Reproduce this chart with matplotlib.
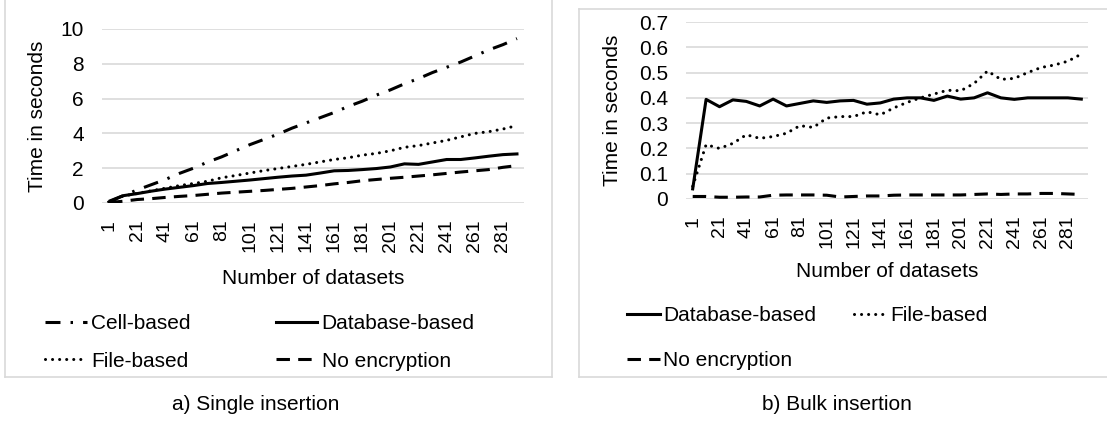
import matplotlib
matplotlib.use("Agg")
import matplotlib.pyplot as plt
from matplotlib.lines import Line2D

plt.rcParams['font.family'] = ['Liberation Sans', 'DejaVu Sans']

# categories: number of datasets (one point every 10)
datasets = [1, 11, 21, 31, 41, 51, 61, 71, 81, 91, 101, 111, 121, 131, 141,
            151, 161, 171, 181, 191, 201, 211, 221, 231, 241, 251, 261, 271, 281, 291]

# a) single insertion (seconds)
single_cell = [0.1, 0.42, 0.75, 1.05, 1.35, 1.7, 2.0, 2.35, 2.65, 3.0, 3.35, 3.65, 3.95, 4.3, 4.6,
               4.9, 5.2, 5.55, 5.85, 6.2, 6.5, 6.85, 7.15, 7.5, 7.8, 8.1, 8.45, 8.8, 9.1, 9.45]
single_db = [0.06, 0.42, 0.54, 0.68, 0.8, 0.9, 1.0, 1.12, 1.18, 1.25, 1.32, 1.4, 1.48, 1.55, 1.6,
             1.72, 1.85, 1.87, 1.92, 1.98, 2.07, 2.25, 2.22, 2.36, 2.5, 2.5, 2.59, 2.69, 2.78, 2.82]
single_file = [0.06, 0.4, 0.55, 0.7, 0.85, 1.0, 1.12, 1.25, 1.45, 1.58, 1.72, 1.86, 1.98, 2.1, 2.22,
               2.36, 2.5, 2.6, 2.75, 2.85, 3.0, 3.2, 3.3, 3.45, 3.6, 3.8, 4.0, 4.1, 4.25, 4.45]
single_none = [0.03, 0.1, 0.2, 0.25, 0.32, 0.38, 0.43, 0.5, 0.57, 0.62, 0.67, 0.72, 0.78, 0.84, 0.92,
               1.0, 1.1, 1.18, 1.28, 1.35, 1.42, 1.48, 1.55, 1.62, 1.7, 1.78, 1.85, 1.92, 2.05, 2.15]

# b) bulk insertion (seconds)
bulk_db = [0.04, 0.394, 0.365, 0.392, 0.386, 0.368, 0.395, 0.368, 0.378, 0.388, 0.382, 0.388, 0.39, 0.375, 0.38,
           0.395, 0.4, 0.4, 0.39, 0.407, 0.395, 0.4, 0.42, 0.4, 0.394, 0.4, 0.4, 0.4, 0.4, 0.395]
bulk_file = [0.05, 0.215, 0.2, 0.22, 0.254, 0.24, 0.247, 0.26, 0.29, 0.283, 0.32, 0.326, 0.326, 0.345, 0.333,
             0.36, 0.382, 0.4, 0.415, 0.43, 0.428, 0.457, 0.506, 0.473, 0.477, 0.5, 0.52, 0.53, 0.545, 0.573]
bulk_none = [0.01, 0.01, 0.007, 0.007, 0.008, 0.008, 0.015, 0.016, 0.016, 0.016, 0.015, 0.008, 0.01, 0.012, 0.012,
             0.015, 0.016, 0.016, 0.016, 0.016, 0.016, 0.018, 0.02, 0.018, 0.02, 0.02, 0.022, 0.022, 0.02, 0.018]

LW = 2.2
GRID = '#d9d9d9'
FS = 15       # horizontal text
FS_X = 14     # rotated category labels

styles = {
    'Cell-based': dict(linestyle=(0, (4.9, 3.3, 0.8, 3.3))),
    'Database-based': dict(linestyle='-'),
    'File-based': dict(linestyle=(0, (0.01, 2.3)), dash_capstyle='round'),
    'No encryption': dict(linestyle=(0, (4.4, 2.7))),
}

fig = plt.figure(figsize=(11.07, 4.24), dpi=100)


def setup(ax, ymax, ystep, fmt, ylabelpad, xlabelpad):
    x = list(range(len(datasets)))
    ax.set_xlim(-0.5, len(datasets) - 0.5)
    ax.set_ylim(0, ymax)
    ticks = [i * ystep for i in range(int(round(ymax / ystep)) + 1)]
    ax.set_yticks(ticks)
    ax.set_yticklabels([fmt(t) for t in ticks], fontsize=FS)
    ax.set_xticks(x[::2])
    ax.set_xticklabels([str(d) for d in datasets[::2]], rotation=90, fontsize=FS_X)
    ax.tick_params(length=0)
    ax.tick_params(axis='x', pad=12)
    ax.tick_params(axis='y', pad=13)
    for s in ax.spines.values():
        s.set_visible(False)
    ax.grid(axis='y', color=GRID, lw=1.2)
    ax.set_axisbelow(True)
    ax.set_xlabel('Number of datasets', fontsize=FS, labelpad=xlabelpad)
    ax.set_ylabel('Time in seconds', fontsize=FS, labelpad=ylabelpad)
    return x


# a) single insertion
ax1 = fig.add_axes([102 / 1107, 1 - 203 / 424, 422 / 1107, 174 / 424])
x = setup(ax1, 10, 2, lambda t: f'{t:g}', 10, 12)
lines1 = {}
for name, vals in [('Cell-based', single_cell), ('Database-based', single_db),
                   ('File-based', single_file), ('No encryption', single_none)]:
    ln, = ax1.plot(x, vals, color='black', lw=LW, label=name, **styles[name])
    lines1[name] = ln

# b) bulk insertion
ax2 = fig.add_axes([686 / 1107, 1 - 199 / 424, 402 / 1107, 177 / 424])
x = setup(ax2, 0.7, 0.1, lambda t: '0' if t == 0 else f'{t:.1f}', 12, 10)
lines2 = {}
for name, vals in [('Database-based', bulk_db), ('File-based', bulk_file), ('No encryption', bulk_none)]:
    ln, = ax2.plot(x, vals, color='black', lw=LW, label=name, **styles[name])
    lines2[name] = ln

# legends are filled row by row in the original, matplotlib fills by column
order1 = ['Cell-based', 'File-based', 'Database-based', 'No encryption']
fig.legend(handles=[lines1[n] for n in order1], loc='upper left', bbox_to_anchor=(45 / 1107, 1 - 314 / 424),
           ncol=2, frameon=False, fontsize=FS, handlelength=2.0, handletextpad=0.2,
           columnspacing=4.1, labelspacing=0.9, borderpad=0, borderaxespad=0)
order2 = ['Database-based', 'No encryption', 'File-based']
fig.legend(handles=[lines2[n] for n in order2], loc='upper left', bbox_to_anchor=(627 / 1107, 1 - 306 / 424),
           ncol=2, frameon=False, fontsize=FS, handlelength=1.6, handletextpad=0.15,
           columnspacing=1.8, labelspacing=1.25, borderpad=0, borderaxespad=0)

# chart area frames
W, H = 1107, 424
def fl(x0, y0, x1, y1):
    fig.add_artist(Line2D([x0 / W, x1 / W], [1 - y0 / H, 1 - y1 / H], color=GRID, lw=1.2))

fl(5, 0, 5, 377)
fl(5, 377, 552, 377)
fl(552, 0, 552, 377)
fl(579, 9, 1107, 9)
fl(579, 9, 579, 377)
fl(579, 377, 1107, 377)

fig.text(256 / W, 1 - 405 / H, 'a) Single insertion', ha='center', va='center', fontsize=FS)
fig.text(837 / W, 1 - 405 / H, 'b) Bulk insertion', ha='center', va='center', fontsize=FS)

fig.savefig('out.png', dpi=100)
